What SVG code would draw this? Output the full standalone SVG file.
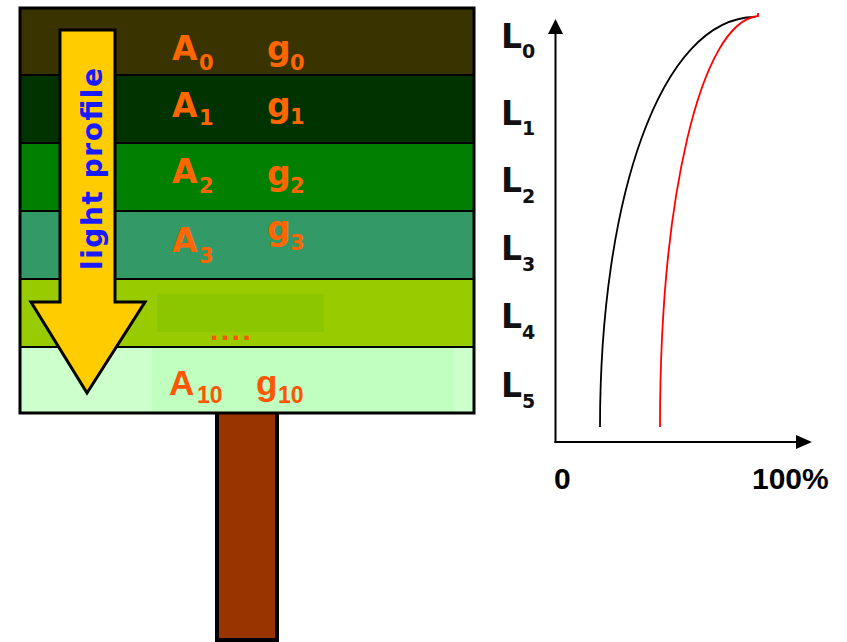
<svg xmlns="http://www.w3.org/2000/svg" width="847" height="642" viewBox="0 0 847 642">
<style>
.lbl{font-family:"DejaVu Sans",sans-serif;font-weight:bold;fill:#ff6600;font-size:33px}
.sub{font-family:"DejaVu Sans",sans-serif;font-weight:bold;fill:#ff6600;font-size:21px}
.lb{font-family:"Liberation Sans",Arial,sans-serif;font-weight:bold;fill:#ff5500}
.L{font-family:"DejaVu Sans",sans-serif;font-weight:bold;fill:#111;font-size:33px}
.Ls{font-family:"DejaVu Sans",sans-serif;font-weight:bold;fill:#111;font-size:19px}
.ax{font-family:"Liberation Sans",Arial,sans-serif;font-weight:bold;fill:#000;font-size:30px}
.sep{stroke:#000;stroke-width:2}
</style>
<rect width="847" height="642" fill="#fff"/>
<g id="trunk">
<rect x="217" y="412" width="60" height="228" fill="#993300" stroke="#000" stroke-width="4"/>
</g>
<g id="canopy">
<rect x="20" y="8" width="454" height="67" fill="#393300"/>
<rect x="20" y="75" width="454" height="68" fill="#003300"/>
<rect x="20" y="143" width="454" height="68" fill="#007f00"/>
<rect x="20" y="211" width="454" height="68" fill="#339966"/>
<rect x="20" y="279" width="454" height="68" fill="#99cc00"/>
<rect x="20" y="347" width="454" height="66" fill="#ccffcc"/>
<rect x="157" y="294" width="167" height="38" fill="#8cc600"/>
<rect x="152" y="348" width="302" height="65" fill="#c0ffc0"/>
<line class="sep" x1="20" y1="75" x2="474" y2="75"/>
<line class="sep" x1="20" y1="143" x2="474" y2="143"/>
<line class="sep" x1="20" y1="211" x2="474" y2="211"/>
<line class="sep" x1="20" y1="279" x2="474" y2="279"/>
<line class="sep" x1="20" y1="347" x2="474" y2="347"/>
<rect x="20" y="8" width="454" height="405" fill="none" stroke="#000" stroke-width="3"/>
</g>
<g id="labels">
<text class="lbl" x="172" y="60">A</text><text class="sub" x="199" y="70">0</text>
<text class="lbl" x="267" y="60">g</text><text class="sub" x="290" y="70">0</text>
<text class="lbl" x="172" y="117">A</text><text class="sub" x="199" y="125">1</text>
<text class="lbl" x="267" y="117">g</text><text class="sub" x="290" y="124">1</text>
<text class="lbl" x="172" y="183">A</text><text class="sub" x="199" y="193">2</text>
<text class="lbl" x="267" y="185">g</text><text class="sub" x="290" y="193">2</text>
<text class="lbl" x="172" y="252">A</text><text class="sub" x="199" y="263">3</text>
<text class="lbl" x="267" y="240">g</text><text class="sub" x="290" y="250">3</text>
<text class="lb" x="210" y="340" font-size="30" letter-spacing="2.5">....</text>
<text class="lb" x="169" y="395" font-size="35">A</text><text class="lb" x="197" y="403" font-size="23">10</text>
<text class="lb" x="256" y="395" font-size="35">g</text><text class="lb" x="278" y="403" font-size="23">10</text>
</g>
<g id="light-arrow">
<polygon points="60,30 115,30 115,302 145,302 87,393 31,302 60,302" fill="#ffcc00" stroke="#000" stroke-width="3" stroke-linejoin="miter"/>
<text transform="translate(102,270) rotate(-90)" font-family="DejaVu Sans,sans-serif" font-weight="bold" font-size="28" fill="#1a1aff" textLength="202" lengthAdjust="spacing">light profile</text>
</g>
<g id="connectors">
<line x1="555.5" y1="443" x2="555.5" y2="33" stroke="#000" stroke-width="2"/>
<polygon points="548,34 563,34 555.5,19" fill="#000"/>
<line x1="554.5" y1="442" x2="797" y2="442" stroke="#000" stroke-width="2"/>
<polygon points="796,435 796,449 812,442" fill="#000"/>
<path d="M600,427 C600,200 660,18 755,17" fill="none" stroke="#000" stroke-width="1.8"/>
<path d="M660,427 C660,200 700,22 758,16 L758,13" fill="none" stroke="#ff0000" stroke-width="1.8"/>
</g>
<g id="axis-labels">
<text class="L" x="501" y="48">L</text><text class="Ls" x="522" y="58">0</text>
<text class="L" x="501" y="125">L</text><text class="Ls" x="522" y="135">1</text>
<text class="L" x="501" y="192">L</text><text class="Ls" x="522" y="203">2</text>
<text class="L" x="501" y="260">L</text><text class="Ls" x="522" y="271">3</text>
<text class="L" x="501" y="328">L</text><text class="Ls" x="522" y="339">4</text>
<text class="L" x="501" y="397">L</text><text class="Ls" x="522" y="408">5</text>
<text class="ax" x="554" y="489">0</text>
<text class="ax" x="752" y="489">100%</text>
</g>
</svg>
